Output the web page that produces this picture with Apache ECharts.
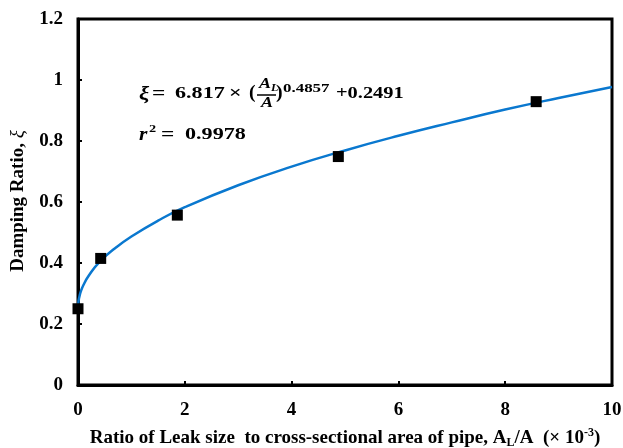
<!DOCTYPE html>
<html>
<head>
<meta charset="utf-8">
<style>html,body{margin:0;padding:0;background:#fff;}#c{width:623px;height:448px;}</style>
<script src="https://cdn.jsdelivr.net/npm/echarts@6/dist/echarts.min.js"></script>
</head>
<body>
<div id="c"></div>
<script>
// Measured points (leak ratio ×10^-3, damping ratio)
var leakRatio = [0, 0.425, 1.86, 4.875, 8.58];
var dampingRatio = [0.25, 0.415, 0.557, 0.749, 0.929];
// Fitted curve
var curveX = [0, 0.01, 0.02, 0.05, 0.1, 0.2, 0.4, 0.7, 1, 1.5, 2, 3, 4, 5, 6, 7, 8, 9, 10];
var curveY = [0.249, 0.275, 0.285, 0.305, 0.327, 0.358, 0.403, 0.449, 0.487, 0.539, 0.583, 0.655, 0.716, 0.769, 0.817, 0.861, 0.903, 0.941, 0.977];
var xTicks = [0, 2, 4, 6, 8, 10];
var yTicks = [0, 0.2, 0.4, 0.6, 0.8, 1, 1.2];

var F = 'Liberation Serif';
var chart = echarts.init(document.getElementById('c'));
var scatterData = leakRatio.map(function (x, i) { return [x, dampingRatio[i]]; });
var curveData = curveX.map(function (x, i) { return [x, curveY[i]]; });

function txt(x, y, s, size, italic, sx) {
  return { type: 'text', x: x, y: y, scaleX: sx || 1.3,
    style: { text: s, align: 'left', verticalAlign: 'middle', fontFamily: F, fontWeight: 'bold',
      fontStyle: italic ? 'italic' : 'normal', fontSize: size, fill: '#000' } };
}

chart.setOption({
  animation: false,
  backgroundColor: '#fff',
  grid: { left: 78, right: 11, top: 19, bottom: 63, show: true, borderColor: '#000', borderWidth: 3,
    containLabel: false, outerBoundsMode: 'none' },
  xAxis: {
    type: 'value', min: xTicks[0], max: xTicks[xTicks.length - 1], interval: 2,
    axisLine: { lineStyle: { color: '#000', width: 3 } },
    axisTick: { inside: true, length: 4, lineStyle: { color: '#000', width: 2 } },
    splitLine: { show: false },
    axisLabel: { color: '#000', fontFamily: F, fontWeight: 'bold', fontSize: 19, margin: 16 },
    name: '{t|Ratio of Leak size  to cross-sectional area of pipe, A}{sub|L}{t|/A  (× 10}{sup|-3}{t|)}',
    nameLocation: 'middle', nameGap: 42,
    nameTextStyle: {
      color: '#000', fontFamily: F, fontWeight: 'bold', fontSize: 19,
      rich: {
        t: { fontFamily: F, fontWeight: 'bold', fontSize: 19, color: '#000', lineHeight: 22 },
        sub: { fontFamily: F, fontWeight: 'bold', fontSize: 12, color: '#000', verticalAlign: 'bottom', lineHeight: 14, padding: [7, 0, 0, 0] },
        sup: { fontFamily: F, fontWeight: 'bold', fontSize: 12, color: '#000', verticalAlign: 'top', lineHeight: 14, padding: [0, 0, 7, 0] }
      }
    }
  },
  yAxis: {
    type: 'value', min: yTicks[0], max: yTicks[yTicks.length - 1], interval: 0.2,
    axisLine: { show: true, lineStyle: { color: '#000', width: 3 } },
    axisTick: { show: true, inside: true, length: 4, lineStyle: { color: '#000', width: 2 } },
    splitLine: { show: false },
    axisLabel: { color: '#000', fontFamily: F, fontWeight: 'bold', fontSize: 19, margin: 15,
      formatter: function (v) { return String(Math.round(v * 10) / 10); } }
  },
  graphic: [
    { type: 'text', x: 18, y: 201, rotation: Math.PI / 2,
      style: { text: '{t|Damping Ratio, }{i|ξ}', align: 'center', verticalAlign: 'middle',
        rich: { t: { fontFamily: F, fontWeight: 'bold', fontSize: 19, fill: '#000' },
                i: { fontFamily: F, fontStyle: 'italic', fontSize: 19, fill: '#000' } } } },
    txt(139, 94, 'ξ', 19, true, 1.2),
    txt(152, 94, '=', 18, false),
    txt(175, 94, '6.817', 17, false),
    txt(229, 94, '×', 17, false),
    txt(249, 93, '(', 18, false, 1.1),
    txt(259, 84, 'A', 15, true, 1.2),
    txt(271, 88, 'L', 10, true, 1.2),
    { type: 'line', shape: { x1: 257, y1: 95, x2: 276, y2: 95 }, style: { stroke: '#000', lineWidth: 1.5 } },
    txt(261, 103, 'A', 15, true, 1.2),
    txt(276, 93, ')', 18, false, 1.1),
    txt(283, 89, '0.4857', 13, false),
    txt(336, 94, '+0.2491', 17, false, 1.2),
    txt(139, 135, 'r', 18, true, 1.2),
    txt(149, 129, '2', 11, false),
    txt(161, 135, '=', 18, false),
    txt(185, 135, '0.9978', 17, false)
  ],
  series: [
    { type: 'line', data: curveData, smooth: true, showSymbol: false, symbol: 'none',
      lineStyle: { color: '#0A78CF', width: 2.5 }, z: 2 },
    { type: 'scatter', data: scatterData, symbol: 'rect', symbolSize: 11,
      itemStyle: { color: '#000', opacity: 1 }, z: 3 }
  ]
});
</script>
</body>
</html>
